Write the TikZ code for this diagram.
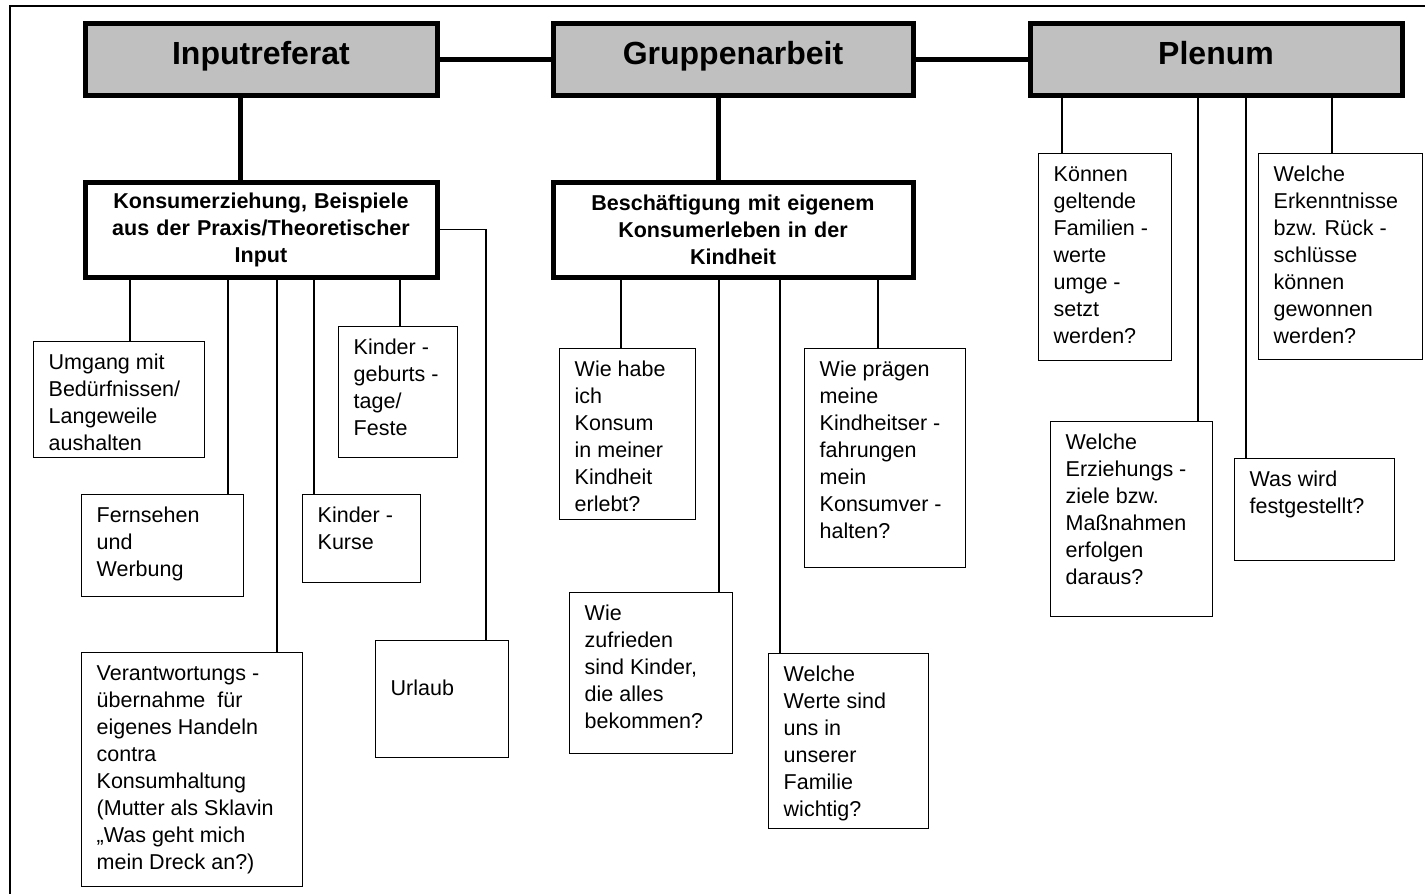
\documentclass[tikz,border=0pt]{standalone}
\usepackage{fontspec}
\setmainfont{Liberation Sans}
\usetikzlibrary{calc}

\definecolor{headgray}{HTML}{C0C0C0}

\tikzset{
  head/.style={draw, line width=5pt, fill=headgray, anchor=north west, inner sep=0pt,
    text height=20pt, text depth=9pt, font=\fontsize{32}{38}\selectfont\bfseries},
  topic/.style={draw, line width=5pt, fill=white, anchor=north west, inner sep=0pt, align=center,
    font=\fontsize{21.5}{27}\selectfont\bfseries},
  qbox/.style={draw, line width=1.4pt, fill=white, anchor=north west, inner xsep=15pt, inner ysep=9pt,
    font=\fontsize{21.5}{27}\selectfont},
  thickline/.style={line width=5pt},
  thinline/.style={line width=1.3pt},
}

% text block of a question box: width, height (px), lines
\newcommand{\qtext}[3]{\parbox[c][\dimexpr#2pt-18pt\relax][t]{\dimexpr#1pt-30pt\relax}{\raggedright\strut #3}}

\begin{document}
\begin{tikzpicture}[x=1pt, y=-1pt]
        \useasboundingbox (0,0) rectangle (1425,894);
        \draw[line width=2pt] (1425,6) -- (10,6) -- (10,894); % frame

        % Main steps
        \node[head, minimum width=352pt, minimum height=72pt] (input) at (82.5,20.5) {Inputreferat};
        \node[head, minimum width=360pt, minimum height=72pt] (gruppe) at (550.5,20.5) {Gruppenarbeit};
        \node[head, minimum width=372pt, minimum height=72pt] (plenum) at (1027.5,20.5) {Plenum};
        \draw[thickline] (input.east) -- (gruppe.west);
        \draw[thickline] (gruppe.east) -- (plenum.west);

        % Topics
        \node[topic, minimum width=352pt, minimum height=95pt, text width=330pt] (konsum) at (82.5,179.5)
          {Konsumerziehung, Beispiele\\aus der Praxis/Theoretischer\\Input};
        \node[topic, minimum width=360pt, minimum height=95pt, text width=340pt] (besch) at (550.5,179.5)
          {Beschäftigung mit eigenem\\Konsumerleben in der\\Kindheit};
        \draw[thickline] ($(input.south west)+(157.5,0)$) -- ($(konsum.north west)+(157.5,0)$);
        \draw[thickline] ($(gruppe.south west)+(167.5,0)$) -- ($(besch.north west)+(167.5,0)$);

        % Inputreferat
        \node[qbox] (umgang) at (33,341) {\qtext{171}{116}{Umgang mit\\Bedürfnissen/\\Langeweile\\aushalten}};
        \node[qbox] (geburt) at (338,326) {\qtext{119}{131}{Kinder -\\geburts -\\tage/\\Feste}};
        \node[qbox] (fern) at (81,494) {\qtext{162}{102}{Fernsehen\\und\\Werbung}};
        \node[qbox] (kurse) at (302,494) {\qtext{118}{88}{Kinder -\\Kurse}};
        \node[qbox] (verant) at (81,652) {\qtext{221}{234}{Verantwortungs -\\übernahme\ \ für\\eigenes Handeln\\contra\\Konsumhaltung\\(Mutter als Sklavin\\„Was geht mich\\mein Dreck an?)}};
        \node[qbox] (urlaub) at (375,640) {\qtext{133}{117}{\\Urlaub}};
        \foreach \child/\dx in {umgang/97, fern/147, verant/196, kurse/12, geburt/62}
          \draw[thinline] ($(\child.north west)+(\dx,0)$) -- ($(\child.north west |- konsum.south)+(\dx,0)$);
        \draw[thinline] (konsum.east) -| ($(urlaub.north west)+(111,0)$);

        % Gruppenarbeit
        \node[qbox] (wiehabe) at (559,348) {\qtext{136}{171}{Wie habe\\ich\\Konsum\\in meiner\\Kindheit\\erlebt?}};
        \node[qbox] (zufrieden) at (569,592) {\qtext{163}{161}{Wie\\zufrieden\\sind Kinder,\\die alles\\bekommen?}};
        \node[qbox] (werte) at (768,653) {\qtext{160}{175}{Welche\\Werte sind\\uns in\\unserer\\Familie\\wichtig?}};
        \node[qbox] (praegen) at (804,348) {\qtext{161}{219}{Wie prägen\\meine\\Kindheitser -\\fahrungen\\mein\\Konsumver -\\halten?}};
        \foreach \child/\dx in {wiehabe/62, zufrieden/150, werte/12, praegen/74}
          \draw[thinline] ($(\child.north west)+(\dx,0)$) -- ($(\child.north west |- besch.south)+(\dx,0)$);

        % Plenum
        \node[qbox] (koennen) at (1038,153) {\qtext{133}{207}{Können\\geltende\\Familien -\\werte\\umge -\\setzt\\werden?}};
        \node[qbox] (erziehung) at (1050,421) {\qtext{162}{195}{Welche\\Erziehungs -\\ziele bzw.\\Maßnahmen\\erfolgen\\daraus?}};
        \node[qbox] (waswird) at (1234,458) {\qtext{160}{102}{Was wird\\festgestellt?}};
        \node[qbox] (erkennt) at (1258,153) {\qtext{164}{206}{Welche\\Erkenntnisse\\bzw. Rück -\\schlüsse\\können\\gewonnen\\werden?}};
        \foreach \child/\dx in {koennen/24, erziehung/148, waswird/12, erkennt/74}
          \draw[thinline] ($(\child.north west)+(\dx,0)$) -- ($(\child.north west |- plenum.south)+(\dx,0)$);
\end{tikzpicture}
\end{document}
